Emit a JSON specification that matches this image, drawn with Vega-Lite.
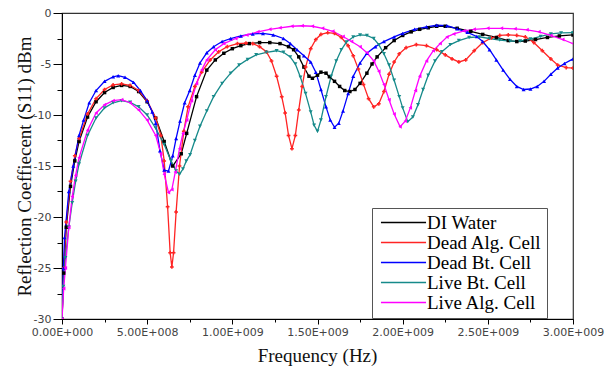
{
  "$schema": "https://vega.github.io/schema/vega-lite/v6.json",
  "width": 511,
  "height": 306,
  "autosize": {"type": "none"},
  "padding": {"left": 62, "top": 13, "right": 35, "bottom": 47},
  "background": "#ffffff",
  "config": {
    "view": {"stroke": "#333333", "strokeWidth": 1.2},
    "axis": {"domainColor": "#000000", "tickColor": "#000000", "grid": false, "labelFont": "DejaVu Sans", "labelFontSize": 11, "labelColor": "#444444", "titleFont": "Liberation Serif", "titleFontSize": 19, "titleFontWeight": "normal", "titleColor": "#111111"}
  },
  "data": {"values": [
    {"s":"DI Water","f":0,"v":-30},{"s":"DI Water","f":1e7,"v":-25.5},{"s":"DI Water","f":2.5e7,"v":-21},{"s":"DI Water","f":5e7,"v":-17},{"s":"DI Water","f":7.5e7,"v":-14.5},{"s":"DI Water","f":1e8,"v":-12.6},{"s":"DI Water","f":1.5e8,"v":-10.2},{"s":"DI Water","f":2e8,"v":-8.7},{"s":"DI Water","f":2.5e8,"v":-7.8},{"s":"DI Water","f":3e8,"v":-7.3},{"s":"DI Water","f":3.5e8,"v":-7.1},{"s":"DI Water","f":4e8,"v":-7.2},{"s":"DI Water","f":4.5e8,"v":-7.7},{"s":"DI Water","f":5e8,"v":-8.7},{"s":"DI Water","f":5.5e8,"v":-10.3},{"s":"DI Water","f":6e8,"v":-12.6},{"s":"DI Water","f":6.5e8,"v":-15.0},{"s":"DI Water","f":7e8,"v":-13.8},{"s":"DI Water","f":7.32e8,"v":-11.8},{"s":"DI Water","f":7.9e8,"v":-8.2},{"s":"DI Water","f":8.5e8,"v":-5.6},{"s":"DI Water","f":9e8,"v":-4.6},{"s":"DI Water","f":9.5e8,"v":-3.95},{"s":"DI Water","f":1e9,"v":-3.5},{"s":"DI Water","f":1.05e9,"v":-3.2},{"s":"DI Water","f":1.1e9,"v":-3.0},{"s":"DI Water","f":1.16e9,"v":-2.9},{"s":"DI Water","f":1.22e9,"v":-2.9},{"s":"DI Water","f":1.28e9,"v":-3.0},{"s":"DI Water","f":1.33e9,"v":-3.3},{"s":"DI Water","f":1.36e9,"v":-3.6},{"s":"DI Water","f":1.39e9,"v":-4.3},{"s":"DI Water","f":1.42e9,"v":-5.3},{"s":"DI Water","f":1.45e9,"v":-6.2},{"s":"DI Water","f":1.47e9,"v":-6.4},{"s":"DI Water","f":1.5e9,"v":-6.1},{"s":"DI Water","f":1.52e9,"v":-5.8},{"s":"DI Water","f":1.55e9,"v":-5.9},{"s":"DI Water","f":1.57e9,"v":-6.25},{"s":"DI Water","f":1.6e9,"v":-6.7},{"s":"DI Water","f":1.63e9,"v":-7.2},{"s":"DI Water","f":1.66e9,"v":-7.6},{"s":"DI Water","f":1.69e9,"v":-7.7},{"s":"DI Water","f":1.72e9,"v":-7.5},{"s":"DI Water","f":1.75e9,"v":-6.9},{"s":"DI Water","f":1.79e9,"v":-5.9},{"s":"DI Water","f":1.82e9,"v":-5.0},{"s":"DI Water","f":1.85e9,"v":-4.3},{"s":"DI Water","f":1.9e9,"v":-3.4},{"s":"DI Water","f":1.95e9,"v":-2.7},{"s":"DI Water","f":2e9,"v":-2.2},{"s":"DI Water","f":2.05e9,"v":-1.85},{"s":"DI Water","f":2.1e9,"v":-1.6},{"s":"DI Water","f":2.15e9,"v":-1.45},{"s":"DI Water","f":2.2e9,"v":-1.3},{"s":"DI Water","f":2.25e9,"v":-1.3},{"s":"DI Water","f":2.32e9,"v":-1.5},{"s":"DI Water","f":2.4e9,"v":-1.8},{"s":"DI Water","f":2.47e9,"v":-2.1},{"s":"DI Water","f":2.55e9,"v":-2.4},{"s":"DI Water","f":2.62e9,"v":-2.7},{"s":"DI Water","f":2.67e9,"v":-2.8},{"s":"DI Water","f":2.72e9,"v":-2.75},{"s":"DI Water","f":2.78e9,"v":-2.6},{"s":"DI Water","f":2.85e9,"v":-2.4},{"s":"DI Water","f":2.92e9,"v":-2.25},{"s":"DI Water","f":3e9,"v":-2.15},

    {"s":"Dead Alg. Cell","f":0,"v":-30},{"s":"Dead Alg. Cell","f":1e7,"v":-25},{"s":"Dead Alg. Cell","f":2.5e7,"v":-20.5},{"s":"Dead Alg. Cell","f":5e7,"v":-16.5},{"s":"Dead Alg. Cell","f":7.5e7,"v":-14},{"s":"Dead Alg. Cell","f":1e8,"v":-12.3},{"s":"Dead Alg. Cell","f":1.5e8,"v":-9.9},{"s":"Dead Alg. Cell","f":2e8,"v":-8.4},{"s":"Dead Alg. Cell","f":2.5e8,"v":-7.5},{"s":"Dead Alg. Cell","f":3e8,"v":-7.05},{"s":"Dead Alg. Cell","f":3.5e8,"v":-6.95},{"s":"Dead Alg. Cell","f":4e8,"v":-7.1},{"s":"Dead Alg. Cell","f":4.5e8,"v":-7.6},{"s":"Dead Alg. Cell","f":5e8,"v":-8.6},{"s":"Dead Alg. Cell","f":5.5e8,"v":-10.3},{"s":"Dead Alg. Cell","f":5.8e8,"v":-12.0},{"s":"Dead Alg. Cell","f":6e8,"v":-14.5},{"s":"Dead Alg. Cell","f":6.2e8,"v":-19},{"s":"Dead Alg. Cell","f":6.35e8,"v":-23.5},{"s":"Dead Alg. Cell","f":6.45e8,"v":-24.9},{"s":"Dead Alg. Cell","f":6.55e8,"v":-23.5},{"s":"Dead Alg. Cell","f":6.7e8,"v":-19.5},{"s":"Dead Alg. Cell","f":6.9e8,"v":-15},{"s":"Dead Alg. Cell","f":7.15e8,"v":-11.6},{"s":"Dead Alg. Cell","f":7.4e8,"v":-9.2},{"s":"Dead Alg. Cell","f":7.8e8,"v":-7.2},{"s":"Dead Alg. Cell","f":8.2e8,"v":-5.8},{"s":"Dead Alg. Cell","f":8.7e8,"v":-4.6},{"s":"Dead Alg. Cell","f":9.2e8,"v":-3.8},{"s":"Dead Alg. Cell","f":9.7e8,"v":-3.3},{"s":"Dead Alg. Cell","f":1.03e9,"v":-3.0},{"s":"Dead Alg. Cell","f":1.08e9,"v":-2.95},{"s":"Dead Alg. Cell","f":1.12e9,"v":-3.0},{"s":"Dead Alg. Cell","f":1.16e9,"v":-3.3},{"s":"Dead Alg. Cell","f":1.2e9,"v":-3.8},{"s":"Dead Alg. Cell","f":1.23e9,"v":-4.7},{"s":"Dead Alg. Cell","f":1.26e9,"v":-6.2},{"s":"Dead Alg. Cell","f":1.29e9,"v":-8.2},{"s":"Dead Alg. Cell","f":1.31e9,"v":-9.8},{"s":"Dead Alg. Cell","f":1.33e9,"v":-12.0},{"s":"Dead Alg. Cell","f":1.35e9,"v":-13.3},{"s":"Dead Alg. Cell","f":1.37e9,"v":-12.0},{"s":"Dead Alg. Cell","f":1.39e9,"v":-9.5},{"s":"Dead Alg. Cell","f":1.41e9,"v":-7.2},{"s":"Dead Alg. Cell","f":1.43e9,"v":-5.3},{"s":"Dead Alg. Cell","f":1.46e9,"v":-3.5},{"s":"Dead Alg. Cell","f":1.49e9,"v":-2.6},{"s":"Dead Alg. Cell","f":1.52e9,"v":-2.1},{"s":"Dead Alg. Cell","f":1.56e9,"v":-1.93},{"s":"Dead Alg. Cell","f":1.6e9,"v":-2.0},{"s":"Dead Alg. Cell","f":1.64e9,"v":-2.4},{"s":"Dead Alg. Cell","f":1.68e9,"v":-3.2},{"s":"Dead Alg. Cell","f":1.71e9,"v":-4.2},{"s":"Dead Alg. Cell","f":1.74e9,"v":-5.5},{"s":"Dead Alg. Cell","f":1.77e9,"v":-7.0},{"s":"Dead Alg. Cell","f":1.8e9,"v":-8.4},{"s":"Dead Alg. Cell","f":1.83e9,"v":-9.2},{"s":"Dead Alg. Cell","f":1.86e9,"v":-8.9},{"s":"Dead Alg. Cell","f":1.89e9,"v":-7.7},{"s":"Dead Alg. Cell","f":1.92e9,"v":-6.0},{"s":"Dead Alg. Cell","f":1.95e9,"v":-4.8},{"s":"Dead Alg. Cell","f":1.98e9,"v":-4.0},{"s":"Dead Alg. Cell","f":2.02e9,"v":-3.4},{"s":"Dead Alg. Cell","f":2.08e9,"v":-3.1},{"s":"Dead Alg. Cell","f":2.14e9,"v":-3.2},{"s":"Dead Alg. Cell","f":2.2e9,"v":-3.6},{"s":"Dead Alg. Cell","f":2.25e9,"v":-4.1},{"s":"Dead Alg. Cell","f":2.29e9,"v":-4.5},{"s":"Dead Alg. Cell","f":2.33e9,"v":-4.8},{"s":"Dead Alg. Cell","f":2.37e9,"v":-4.6},{"s":"Dead Alg. Cell","f":2.42e9,"v":-3.7},{"s":"Dead Alg. Cell","f":2.47e9,"v":-2.9},{"s":"Dead Alg. Cell","f":2.52e9,"v":-2.45},{"s":"Dead Alg. Cell","f":2.57e9,"v":-2.2},{"s":"Dead Alg. Cell","f":2.62e9,"v":-2.15},{"s":"Dead Alg. Cell","f":2.67e9,"v":-2.2},{"s":"Dead Alg. Cell","f":2.72e9,"v":-2.35},{"s":"Dead Alg. Cell","f":2.77e9,"v":-2.9},{"s":"Dead Alg. Cell","f":2.82e9,"v":-3.7},{"s":"Dead Alg. Cell","f":2.87e9,"v":-4.5},{"s":"Dead Alg. Cell","f":2.91e9,"v":-5.1},{"s":"Dead Alg. Cell","f":2.96e9,"v":-5.35},{"s":"Dead Alg. Cell","f":3e9,"v":-5.4},

    {"s":"Dead Bt. Cell","f":0,"v":-30},{"s":"Dead Bt. Cell","f":8e6,"v":-25},{"s":"Dead Bt. Cell","f":1.5e7,"v":-22},{"s":"Dead Bt. Cell","f":4e7,"v":-17.5},{"s":"Dead Bt. Cell","f":6.6e7,"v":-15},{"s":"Dead Bt. Cell","f":1e8,"v":-12},{"s":"Dead Bt. Cell","f":1.27e8,"v":-10.5},{"s":"Dead Bt. Cell","f":1.6e8,"v":-8.8},{"s":"Dead Bt. Cell","f":2e8,"v":-7.6},{"s":"Dead Bt. Cell","f":2.5e8,"v":-6.7},{"s":"Dead Bt. Cell","f":3e8,"v":-6.25},{"s":"Dead Bt. Cell","f":3.3e8,"v":-6.15},{"s":"Dead Bt. Cell","f":3.7e8,"v":-6.3},{"s":"Dead Bt. Cell","f":4.2e8,"v":-6.8},{"s":"Dead Bt. Cell","f":4.6e8,"v":-7.6},{"s":"Dead Bt. Cell","f":5e8,"v":-8.6},{"s":"Dead Bt. Cell","f":5.3e8,"v":-9.7},{"s":"Dead Bt. Cell","f":5.5e8,"v":-10.8},{"s":"Dead Bt. Cell","f":5.75e8,"v":-13.5},{"s":"Dead Bt. Cell","f":6e8,"v":-15.4},{"s":"Dead Bt. Cell","f":6.25e8,"v":-15.5},{"s":"Dead Bt. Cell","f":6.5e8,"v":-14},{"s":"Dead Bt. Cell","f":6.7e8,"v":-12.3},{"s":"Dead Bt. Cell","f":6.93e8,"v":-10.6},{"s":"Dead Bt. Cell","f":7.2e8,"v":-8.8},{"s":"Dead Bt. Cell","f":7.5e8,"v":-7.6},{"s":"Dead Bt. Cell","f":7.8e8,"v":-6.1},{"s":"Dead Bt. Cell","f":8.1e8,"v":-4.9},{"s":"Dead Bt. Cell","f":8.5e8,"v":-3.9},{"s":"Dead Bt. Cell","f":8.9e8,"v":-3.3},{"s":"Dead Bt. Cell","f":9.4e8,"v":-2.8},{"s":"Dead Bt. Cell","f":9.9e8,"v":-2.5},{"s":"Dead Bt. Cell","f":1.05e9,"v":-2.25},{"s":"Dead Bt. Cell","f":1.12e9,"v":-2.05},{"s":"Dead Bt. Cell","f":1.18e9,"v":-2.0},{"s":"Dead Bt. Cell","f":1.24e9,"v":-2.15},{"s":"Dead Bt. Cell","f":1.3e9,"v":-2.5},{"s":"Dead Bt. Cell","f":1.34e9,"v":-3.0},{"s":"Dead Bt. Cell","f":1.38e9,"v":-3.6},{"s":"Dead Bt. Cell","f":1.42e9,"v":-4.2},{"s":"Dead Bt. Cell","f":1.46e9,"v":-4.8},{"s":"Dead Bt. Cell","f":1.49e9,"v":-5.8},{"s":"Dead Bt. Cell","f":1.52e9,"v":-7.5},{"s":"Dead Bt. Cell","f":1.55e9,"v":-9.2},{"s":"Dead Bt. Cell","f":1.575e9,"v":-10.5},{"s":"Dead Bt. Cell","f":1.6e9,"v":-11.2},{"s":"Dead Bt. Cell","f":1.625e9,"v":-10.8},{"s":"Dead Bt. Cell","f":1.65e9,"v":-9.6},{"s":"Dead Bt. Cell","f":1.68e9,"v":-7.9},{"s":"Dead Bt. Cell","f":1.71e9,"v":-6.2},{"s":"Dead Bt. Cell","f":1.75e9,"v":-4.9},{"s":"Dead Bt. Cell","f":1.79e9,"v":-3.95},{"s":"Dead Bt. Cell","f":1.84e9,"v":-3.3},{"s":"Dead Bt. Cell","f":1.89e9,"v":-2.8},{"s":"Dead Bt. Cell","f":1.95e9,"v":-2.35},{"s":"Dead Bt. Cell","f":2e9,"v":-2.0},{"s":"Dead Bt. Cell","f":2.07e9,"v":-1.6},{"s":"Dead Bt. Cell","f":2.14e9,"v":-1.35},{"s":"Dead Bt. Cell","f":2.2e9,"v":-1.2},{"s":"Dead Bt. Cell","f":2.26e9,"v":-1.25},{"s":"Dead Bt. Cell","f":2.32e9,"v":-1.55},{"s":"Dead Bt. Cell","f":2.38e9,"v":-1.9},{"s":"Dead Bt. Cell","f":2.435e9,"v":-2.3},{"s":"Dead Bt. Cell","f":2.47e9,"v":-2.8},{"s":"Dead Bt. Cell","f":2.51e9,"v":-3.6},{"s":"Dead Bt. Cell","f":2.55e9,"v":-4.6},{"s":"Dead Bt. Cell","f":2.59e9,"v":-5.6},{"s":"Dead Bt. Cell","f":2.63e9,"v":-6.5},{"s":"Dead Bt. Cell","f":2.67e9,"v":-7.2},{"s":"Dead Bt. Cell","f":2.71e9,"v":-7.5},{"s":"Dead Bt. Cell","f":2.75e9,"v":-7.45},{"s":"Dead Bt. Cell","f":2.79e9,"v":-7.2},{"s":"Dead Bt. Cell","f":2.83e9,"v":-6.7},{"s":"Dead Bt. Cell","f":2.87e9,"v":-6.0},{"s":"Dead Bt. Cell","f":2.91e9,"v":-5.4},{"s":"Dead Bt. Cell","f":2.95e9,"v":-4.95},{"s":"Dead Bt. Cell","f":3e9,"v":-4.5},

    {"s":"Live Bt. Cell","f":0,"v":-30},{"s":"Live Bt. Cell","f":8e6,"v":-26.8},{"s":"Live Bt. Cell","f":2e7,"v":-24},{"s":"Live Bt. Cell","f":4e7,"v":-21},{"s":"Live Bt. Cell","f":6e7,"v":-18.6},{"s":"Live Bt. Cell","f":8e7,"v":-16.5},{"s":"Live Bt. Cell","f":1e8,"v":-14.8},{"s":"Live Bt. Cell","f":1.5e8,"v":-12.0},{"s":"Live Bt. Cell","f":2e8,"v":-10.3},{"s":"Live Bt. Cell","f":2.5e8,"v":-9.3},{"s":"Live Bt. Cell","f":3e8,"v":-8.8},{"s":"Live Bt. Cell","f":3.5e8,"v":-8.6},{"s":"Live Bt. Cell","f":4e8,"v":-8.75},{"s":"Live Bt. Cell","f":4.5e8,"v":-9.2},{"s":"Live Bt. Cell","f":5e8,"v":-10.0},{"s":"Live Bt. Cell","f":5.5e8,"v":-11.3},{"s":"Live Bt. Cell","f":6e8,"v":-12.9},{"s":"Live Bt. Cell","f":6.4e8,"v":-14.5},{"s":"Live Bt. Cell","f":6.7e8,"v":-15.5},{"s":"Live Bt. Cell","f":6.9e8,"v":-15.8},{"s":"Live Bt. Cell","f":7.1e8,"v":-15.3},{"s":"Live Bt. Cell","f":7.3e8,"v":-14.5},{"s":"Live Bt. Cell","f":7.52e8,"v":-13.9},{"s":"Live Bt. Cell","f":7.8e8,"v":-12.5},{"s":"Live Bt. Cell","f":8.1e8,"v":-11.1},{"s":"Live Bt. Cell","f":8.5e8,"v":-9.6},{"s":"Live Bt. Cell","f":8.9e8,"v":-8.2},{"s":"Live Bt. Cell","f":9.4e8,"v":-6.9},{"s":"Live Bt. Cell","f":9.9e8,"v":-5.9},{"s":"Live Bt. Cell","f":1.04e9,"v":-5.1},{"s":"Live Bt. Cell","f":1.09e9,"v":-4.55},{"s":"Live Bt. Cell","f":1.14e9,"v":-4.1},{"s":"Live Bt. Cell","f":1.2e9,"v":-3.85},{"s":"Live Bt. Cell","f":1.26e9,"v":-3.7},{"s":"Live Bt. Cell","f":1.3e9,"v":-3.85},{"s":"Live Bt. Cell","f":1.34e9,"v":-4.3},{"s":"Live Bt. Cell","f":1.37e9,"v":-5.0},{"s":"Live Bt. Cell","f":1.4e9,"v":-6.3},{"s":"Live Bt. Cell","f":1.43e9,"v":-7.9},{"s":"Live Bt. Cell","f":1.46e9,"v":-9.7},{"s":"Live Bt. Cell","f":1.48e9,"v":-11.0},{"s":"Live Bt. Cell","f":1.5e9,"v":-11.6},{"s":"Live Bt. Cell","f":1.52e9,"v":-10.5},{"s":"Live Bt. Cell","f":1.55e9,"v":-8.2},{"s":"Live Bt. Cell","f":1.58e9,"v":-6.2},{"s":"Live Bt. Cell","f":1.61e9,"v":-4.7},{"s":"Live Bt. Cell","f":1.64e9,"v":-3.6},{"s":"Live Bt. Cell","f":1.67e9,"v":-2.85},{"s":"Live Bt. Cell","f":1.71e9,"v":-2.35},{"s":"Live Bt. Cell","f":1.75e9,"v":-2.15},{"s":"Live Bt. Cell","f":1.79e9,"v":-2.2},{"s":"Live Bt. Cell","f":1.83e9,"v":-2.5},{"s":"Live Bt. Cell","f":1.86e9,"v":-3.1},{"s":"Live Bt. Cell","f":1.89e9,"v":-4.0},{"s":"Live Bt. Cell","f":1.92e9,"v":-5.1},{"s":"Live Bt. Cell","f":1.95e9,"v":-6.6},{"s":"Live Bt. Cell","f":1.98e9,"v":-8.2},{"s":"Live Bt. Cell","f":2e9,"v":-9.3},{"s":"Live Bt. Cell","f":2.03e9,"v":-10.65},{"s":"Live Bt. Cell","f":2.06e9,"v":-10.2},{"s":"Live Bt. Cell","f":2.09e9,"v":-9.0},{"s":"Live Bt. Cell","f":2.12e9,"v":-7.5},{"s":"Live Bt. Cell","f":2.15e9,"v":-6.1},{"s":"Live Bt. Cell","f":2.19e9,"v":-4.7},{"s":"Live Bt. Cell","f":2.23e9,"v":-3.8},{"s":"Live Bt. Cell","f":2.28e9,"v":-3.1},{"s":"Live Bt. Cell","f":2.33e9,"v":-2.7},{"s":"Live Bt. Cell","f":2.39e9,"v":-2.4},{"s":"Live Bt. Cell","f":2.45e9,"v":-2.35},{"s":"Live Bt. Cell","f":2.51e9,"v":-2.5},{"s":"Live Bt. Cell","f":2.57e9,"v":-2.65},{"s":"Live Bt. Cell","f":2.63e9,"v":-2.75},{"s":"Live Bt. Cell","f":2.69e9,"v":-2.75},{"s":"Live Bt. Cell","f":2.75e9,"v":-2.55},{"s":"Live Bt. Cell","f":2.81e9,"v":-2.3},{"s":"Live Bt. Cell","f":2.87e9,"v":-2.05},{"s":"Live Bt. Cell","f":2.93e9,"v":-1.95},{"s":"Live Bt. Cell","f":3e9,"v":-1.93},

    {"s":"Live Alg. Cell","f":0,"v":-30},{"s":"Live Alg. Cell","f":1e7,"v":-27},{"s":"Live Alg. Cell","f":2e7,"v":-25},{"s":"Live Alg. Cell","f":4e7,"v":-21},{"s":"Live Alg. Cell","f":6e7,"v":-18},{"s":"Live Alg. Cell","f":8e7,"v":-15.9},{"s":"Live Alg. Cell","f":1e8,"v":-14.2},{"s":"Live Alg. Cell","f":1.5e8,"v":-11.5},{"s":"Live Alg. Cell","f":2e8,"v":-9.8},{"s":"Live Alg. Cell","f":2.5e8,"v":-9.0},{"s":"Live Alg. Cell","f":3e8,"v":-8.6},{"s":"Live Alg. Cell","f":3.5e8,"v":-8.5},{"s":"Live Alg. Cell","f":4e8,"v":-8.8},{"s":"Live Alg. Cell","f":4.5e8,"v":-9.5},{"s":"Live Alg. Cell","f":5e8,"v":-10.5},{"s":"Live Alg. Cell","f":5.5e8,"v":-12.0},{"s":"Live Alg. Cell","f":5.8e8,"v":-13.8},{"s":"Live Alg. Cell","f":6e8,"v":-15.8},{"s":"Live Alg. Cell","f":6.25e8,"v":-17.6},{"s":"Live Alg. Cell","f":6.45e8,"v":-17.3},{"s":"Live Alg. Cell","f":6.65e8,"v":-15.6},{"s":"Live Alg. Cell","f":6.9e8,"v":-13.3},{"s":"Live Alg. Cell","f":7.1e8,"v":-11.8},{"s":"Live Alg. Cell","f":7.32e8,"v":-10.5},{"s":"Live Alg. Cell","f":7.6e8,"v":-8.6},{"s":"Live Alg. Cell","f":7.9e8,"v":-6.9},{"s":"Live Alg. Cell","f":8.2e8,"v":-5.6},{"s":"Live Alg. Cell","f":8.5e8,"v":-4.6},{"s":"Live Alg. Cell","f":9e8,"v":-3.6},{"s":"Live Alg. Cell","f":9.5e8,"v":-3.0},{"s":"Live Alg. Cell","f":1.02e9,"v":-2.5},{"s":"Live Alg. Cell","f":1.085e9,"v":-2.15},{"s":"Live Alg. Cell","f":1.15e9,"v":-1.85},{"s":"Live Alg. Cell","f":1.22e9,"v":-1.6},{"s":"Live Alg. Cell","f":1.28e9,"v":-1.45},{"s":"Live Alg. Cell","f":1.35e9,"v":-1.3},{"s":"Live Alg. Cell","f":1.41e9,"v":-1.25},{"s":"Live Alg. Cell","f":1.47e9,"v":-1.3},{"s":"Live Alg. Cell","f":1.53e9,"v":-1.5},{"s":"Live Alg. Cell","f":1.59e9,"v":-1.8},{"s":"Live Alg. Cell","f":1.65e9,"v":-2.3},{"s":"Live Alg. Cell","f":1.7e9,"v":-2.8},{"s":"Live Alg. Cell","f":1.75e9,"v":-3.3},{"s":"Live Alg. Cell","f":1.79e9,"v":-3.9},{"s":"Live Alg. Cell","f":1.83e9,"v":-4.7},{"s":"Live Alg. Cell","f":1.86e9,"v":-5.7},{"s":"Live Alg. Cell","f":1.89e9,"v":-7.0},{"s":"Live Alg. Cell","f":1.92e9,"v":-8.5},{"s":"Live Alg. Cell","f":1.95e9,"v":-9.9},{"s":"Live Alg. Cell","f":1.985e9,"v":-11.15},{"s":"Live Alg. Cell","f":2.015e9,"v":-10.6},{"s":"Live Alg. Cell","f":2.045e9,"v":-9.3},{"s":"Live Alg. Cell","f":2.075e9,"v":-7.6},{"s":"Live Alg. Cell","f":2.1e9,"v":-6.2},{"s":"Live Alg. Cell","f":2.14e9,"v":-4.7},{"s":"Live Alg. Cell","f":2.18e9,"v":-3.7},{"s":"Live Alg. Cell","f":2.22e9,"v":-3.0},{"s":"Live Alg. Cell","f":2.26e9,"v":-2.35},{"s":"Live Alg. Cell","f":2.3e9,"v":-2.05},{"s":"Live Alg. Cell","f":2.36e9,"v":-1.75},{"s":"Live Alg. Cell","f":2.42e9,"v":-1.6},{"s":"Live Alg. Cell","f":2.5e9,"v":-1.5},{"s":"Live Alg. Cell","f":2.58e9,"v":-1.5},{"s":"Live Alg. Cell","f":2.66e9,"v":-1.55},{"s":"Live Alg. Cell","f":2.73e9,"v":-1.65},{"s":"Live Alg. Cell","f":2.8e9,"v":-1.85},{"s":"Live Alg. Cell","f":2.87e9,"v":-2.2},{"s":"Live Alg. Cell","f":2.94e9,"v":-2.6},{"s":"Live Alg. Cell","f":3e9,"v":-3.0}
  ]},
  "encoding": {
    "x": {
      "field": "f", "type": "quantitative",
      "scale": {"domain": [0, 3000000000], "nice": false, "zero": false},
      "axis": {
        "title": "Frequency (Hz)",
        "values": [0, 250000000, 500000000, 750000000, 1000000000, 1250000000, 1500000000, 1750000000, 2000000000, 2250000000, 2500000000, 2750000000, 3000000000],
        "labelExpr": "datum.value % 500000000 !== 0 ? '' : datum.value === 0 ? '0.00E+000' : datum.value < 1000000000 ? format(datum.value / 100000000, '.2f') + 'E+008' : format(datum.value / 1000000000, '.2f') + 'E+009'",
        "labelFlush": false, "labelOverlap": false, "labelBound": false,
        "tickSize": {"condition": {"test": "datum.value % 500000000 === 0", "value": 5}, "value": 3},
        "labelPadding": 2,
        "titleX": 255, "titleY": 36, "titleBaseline": "middle", "titleAnchor": "middle"
      }
    },
    "y": {
      "field": "v", "type": "quantitative",
      "scale": {"domain": [-30, 0], "nice": false, "zero": false},
      "axis": {
        "title": "Reflection Coeffiecent (S11) dBm",
        "values": [0, -2.5, -5, -7.5, -10, -12.5, -15, -17.5, -20, -22.5, -25, -27.5, -30],
        "labelExpr": "datum.value % 5 !== 0 ? '' : '' + datum.value",
        "labelOverlap": false, "labelFlush": false, "labelBound": false,
        "tickSize": {"condition": {"test": "datum.value % 5 === 0", "value": 9}, "value": 5},
        "labelPadding": 2,
        "titleX": -38, "titleY": 153, "titleBaseline": "middle", "titleAnchor": "middle"
      }
    }
  },
  "layer": [
    {
      "mark": {"type": "line", "strokeWidth": 1.3, "clip": true},
      "encoding": {
        "color": {
          "field": "s", "type": "nominal",
          "scale": {"domain": ["DI Water", "Dead Alg. Cell", "Dead Bt. Cell", "Live Bt. Cell", "Live Alg. Cell"], "range": ["#000000", "#ff2424", "#0000ff", "#168a8a", "#ff00ff"]},
          "legend": {
            "title": null, "orient": "none", "legendX": 310, "legendY": 195, "direction": "vertical",
            "symbolType": "M-4,0H4", "symbolSize": 127, "symbolStrokeWidth": 1.3,
            "symbolOffset": 17, "labelOffset": 14,
            "labelFont": "Liberation Serif", "labelFontSize": 19, "labelColor": "#000000", "labelLimit": 300,
            "rowPadding": 0, "padding": 5,
            "strokeColor": "#555555", "fillColor": "#ffffff"
          }
        }
      }
    },
    {
      "transform": [{"filter": "datum.s === 'DI Water'"}],
      "mark": {"type": "point", "filled": true, "size": 12, "shape": "square", "fill": "#000000", "strokeWidth": 0, "opacity": 1, "clip": true}
    },
    {
      "transform": [{"filter": "datum.s === 'Dead Alg. Cell'"}],
      "mark": {"type": "point", "filled": true, "size": 14, "shape": "cross", "fill": "#ff2424", "strokeWidth": 0, "opacity": 1, "clip": true}
    },
    {
      "transform": [{"filter": "datum.s === 'Dead Bt. Cell'"}],
      "mark": {"type": "point", "filled": true, "size": 16, "shape": "triangle-up", "fill": "#0000ff", "strokeWidth": 0, "opacity": 1, "clip": true}
    },
    {
      "transform": [{"filter": "datum.s === 'Live Bt. Cell'"}],
      "mark": {"type": "point", "filled": true, "size": 16, "shape": "triangle-down", "fill": "#168a8a", "strokeWidth": 0, "opacity": 1, "clip": true}
    },
    {
      "transform": [{"filter": "datum.s === 'Live Alg. Cell'"}],
      "mark": {"type": "point", "filled": true, "size": 16, "shape": "triangle-left", "fill": "#ff00ff", "strokeWidth": 0, "opacity": 1, "clip": true}
    }
  ]
}
